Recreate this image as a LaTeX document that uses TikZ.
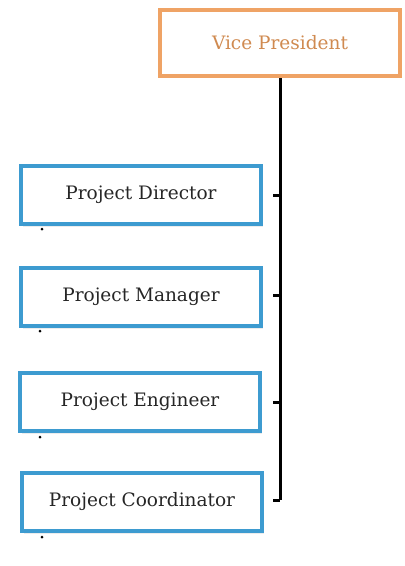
\documentclass[tikz,border=0pt]{standalone}
\usepackage{fontspec}
\setmainfont{DejaVu Serif}
\usetikzlibrary{shadows}
\definecolor{vporange}{HTML}{EFA365}
\definecolor{vptext}{HTML}{D08A50}
\definecolor{pblue}{HTML}{3D9BD0}
\tikzset{
  vpbox/.style={draw=vporange, line width=4pt, fill=white, minimum width=240pt, minimum height=66pt,
    font=\fontsize{18.5}{21}\selectfont, text=vptext, inner sep=0pt},
  pbox/.style={draw=pblue, line width=4pt, fill=white, minimum width=240pt, minimum height=58pt,
    font=\fontsize{18.5}{21}\selectfont, text=black!85, inner sep=0pt,
    drop shadow={shadow xshift=2pt, shadow yshift=-3pt, opacity=0.15}},
  trunk/.style={line width=3pt, black},
  tick/.style={line width=3pt, black},
  speck/.style={fill=black, circle, inner sep=0pt, minimum size=3pt}
}
\begin{document}
\begin{tikzpicture}[x=1pt,y=-1pt]
\useasboundingbox (0,0) rectangle (405,566);
\node[vpbox] (vp) at (280,43) {Vice President};
\node[pbox] (pd) at (141,194.5) {Project Director};
\node[pbox] (pm) at (141,297) {Project Manager};
\node[pbox] (pe) at (140,402) {Project Engineer};
\node[pbox] (pc) at (142,502) {Project Coordinator};
\coordinate (bottom) at (280,500);
\draw[trunk] (vp.south) -- (bottom);
\coordinate (t1) at (273,195);
\coordinate (t2) at (273,295);
\coordinate (t3) at (273,402);
\coordinate (t4) at (273,500);
\foreach \t in {t1,t2,t3,t4} {\draw[tick] (\t) -- (\t -| vp.south);}
\node[speck] (d1) at (42,229) {};
\node[speck] (d2) at (40,331) {};
\node[speck] (d3) at (40,437) {};
\node[speck] (d4) at (42,537) {};
\end{tikzpicture}
\end{document}
